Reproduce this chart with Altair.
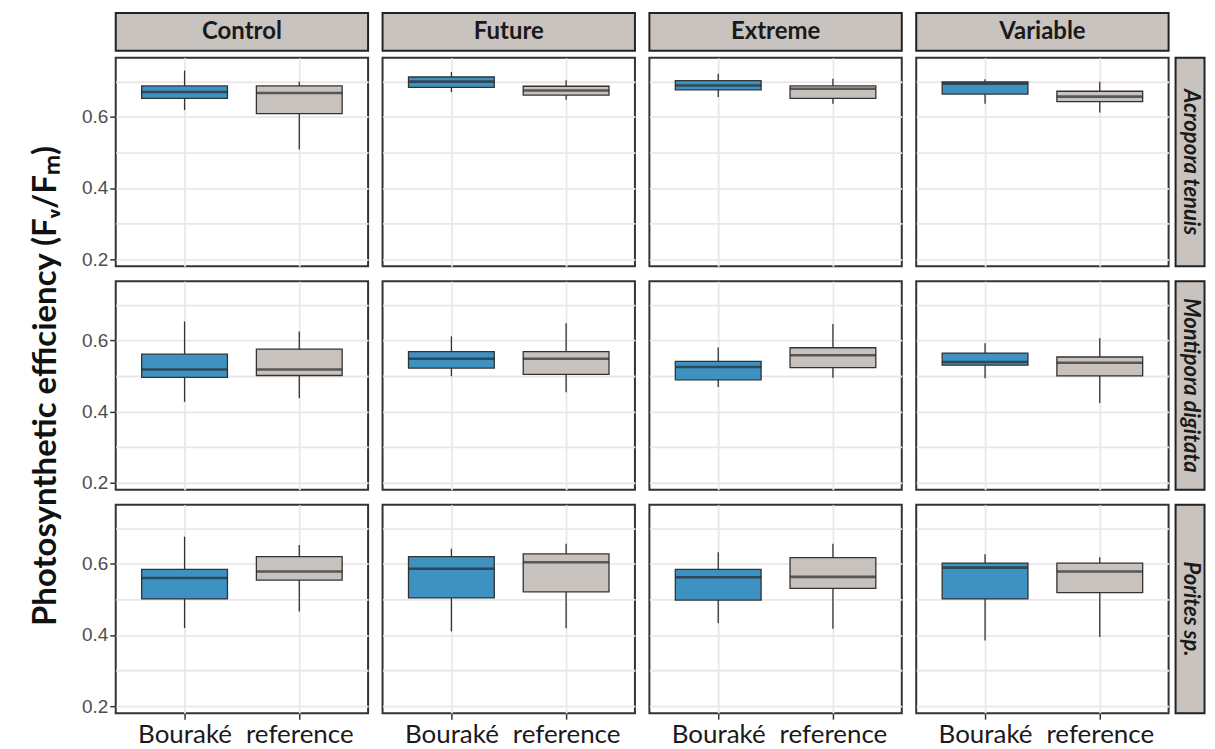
import altair as alt
import pandas as pd

species = ["Acropora tenuis", "Montipora digitata", "Porites sp."]
treatments = ["Control", "Future", "Extreme", "Variable"]
sites = ["Bouraké", "reference"]
y_ticks = [0.2, 0.3, 0.4, 0.5, 0.6, 0.7]

# order: species -> treatment -> site (Bouraké, reference)
ymin = [0.619, 0.508, 0.670, 0.648, 0.656, 0.637, 0.637, 0.612,
        0.427, 0.437, 0.499, 0.454, 0.469, 0.495, 0.493, 0.424,
        0.419, 0.466, 0.410, 0.419, 0.433, 0.417, 0.384, 0.394]
q1 = [0.652, 0.609, 0.683, 0.661, 0.676, 0.652, 0.664, 0.643,
      0.496, 0.501, 0.522, 0.504, 0.489, 0.523, 0.530, 0.500,
      0.501, 0.554, 0.504, 0.521, 0.498, 0.531, 0.501, 0.519]
median = [0.670, 0.667, 0.699, 0.674, 0.688, 0.679, 0.693, 0.657,
          0.518, 0.518, 0.548, 0.548, 0.525, 0.558, 0.539, 0.537,
          0.560, 0.578, 0.586, 0.604, 0.562, 0.563, 0.589, 0.578]
q3 = [0.687, 0.687, 0.712, 0.686, 0.702, 0.687, 0.698, 0.672,
      0.561, 0.575, 0.568, 0.568, 0.541, 0.579, 0.564, 0.553,
      0.584, 0.620, 0.620, 0.628, 0.584, 0.617, 0.602, 0.602]
ymax = [0.730, 0.699, 0.726, 0.703, 0.721, 0.707, 0.706, 0.699,
        0.653, 0.625, 0.611, 0.648, 0.580, 0.646, 0.592, 0.606,
        0.676, 0.653, 0.642, 0.656, 0.632, 0.656, 0.627, 0.618]

rows = []
i = 0
for sp in species:
    for tr in treatments:
        for st in sites:
            rows.append(dict(species=sp, treatment=tr, site=st, ymin=ymin[i],
                             q1=q1[i], median=median[i], q3=q3[i], ymax=ymax[i]))
            i += 1
df = pd.DataFrame(rows)

W, H = 253, 209
Y_DOMAIN = [0.18, 0.766]
BOX_COLORS = ["#3E92C2", "#C8C2BE"]
STRIP_FILL = "#C9C3BF"
DARK = "#333333"
GRID = "#EBE7E7"

minor_test = "round(datum.value*10) % 2 == 1"


def panel(r, c):
    sp = species[r]
    tr = treatments[c]
    sub = df[(df.species == sp) & (df.treatment == tr)]

    if r == 2:
        xaxis = alt.Axis(title=None, labelFont="Lato", labelFontSize=26, labelColor="#1a1a1a",
                         tickColor=DARK, tickSize=6, tickWidth=1.5, domain=False, grid=True,
                         gridColor=GRID, gridWidth=1.8, labelPadding=2, labelAngle=0)
    else:
        xaxis = alt.Axis(title=None, labels=False, ticks=False, domain=False, grid=True,
                         gridColor=GRID, gridWidth=1.8)

    if c == 0:
        ykw = dict(values=y_ticks, labelFont="Liberation Sans", labelFontSize=19,
                   labelColor="#4d4d4d",
                   labelExpr="round(datum.value*10) % 2 == 0 ? format(datum.value, '.1f') : ''",
                   tickColor={"condition": {"test": minor_test, "value": "transparent"}, "value": DARK},
                   tickSize=6, tickWidth=1.5, labelPadding=2, domain=False, grid=True,
                   gridColor=GRID, gridWidth=1.8)
        if r == 1:
            yaxis = alt.Axis(title="Photosynthetic efficiency (Fᵥ/Fₘ)", titleFont="Lato",
                             titleFontSize=33, titleFontWeight="bold", titleColor="#111111",
                             titlePadding=19, **ykw)
        else:
            yaxis = alt.Axis(title=None, **ykw)
    else:
        yaxis = alt.Axis(title=None, values=y_ticks, labels=False, ticks=False, domain=False,
                         grid=True, gridColor=GRID, gridWidth=1.8)

    yscale = alt.Scale(domain=Y_DOMAIN, nice=False, zero=False)
    base = alt.Chart(sub).encode(
        x=alt.X("site:N", scale=alt.Scale(type="point", padding=0.6, domain=sites), axis=xaxis)
    )
    whisk = base.mark_rule(color=DARK, strokeWidth=1.3).encode(
        y=alt.Y("ymin:Q", scale=yscale, axis=yaxis), y2="ymax:Q")
    box = base.mark_bar(size=86, stroke=DARK, strokeWidth=1.3).encode(
        y=alt.Y("q1:Q", scale=yscale, axis=yaxis), y2="q3:Q",
        color=alt.Color("site:N", scale=alt.Scale(domain=sites, range=BOX_COLORS), legend=None))
    med = base.mark_tick(size=86, thickness=2.6, color="#2a2a2a").encode(
        y=alt.Y("median:Q", scale=yscale, axis=yaxis))
    layers = [whisk, box, med]

    if r == 0:
        sdf = pd.DataFrame({"label": [tr]})
        layers.append(alt.Chart(sdf).mark_rect(fill=STRIP_FILL, stroke="#222222", strokeWidth=2).encode(
            x=alt.value(0), x2=alt.value(W), y=alt.value(-45), y2=alt.value(-7)))
        layers.append(alt.Chart(sdf).mark_text(font="Lato", fontWeight="bold", fontSize=24,
                                               color="#1a1a1a").encode(
            x=alt.value(W / 2), y=alt.value(-26), text="label:N"))
    if c == 3:
        rdf = pd.DataFrame({"label": [sp]})
        layers.append(alt.Chart(rdf).mark_rect(fill=STRIP_FILL, stroke="#222222", strokeWidth=2).encode(
            x=alt.value(W + 7), x2=alt.value(W + 36), y=alt.value(0), y2=alt.value(H)))
        layers.append(alt.Chart(rdf).mark_text(font="Lato", fontWeight="bold", fontStyle="italic",
                                               fontSize=22, angle=90, color="#1a1a1a").encode(
            x=alt.value(W + 22), y=alt.value(H / 2), text="label:N"))

    return alt.layer(*layers).properties(width=W, height=H)


panels = [panel(r, c) for r in range(3) for c in range(4)]

chart = alt.concat(*panels, columns=4, spacing={"row": 15, "column": 14.5}, bounds="flush").properties(
    padding={"left": 20, "top": 2, "right": 0, "bottom": 0}
).configure_view(stroke=DARK, strokeWidth=2, fill="white")

chart.save("out.html", embed_options={"renderer": "svg", "actions": False})
